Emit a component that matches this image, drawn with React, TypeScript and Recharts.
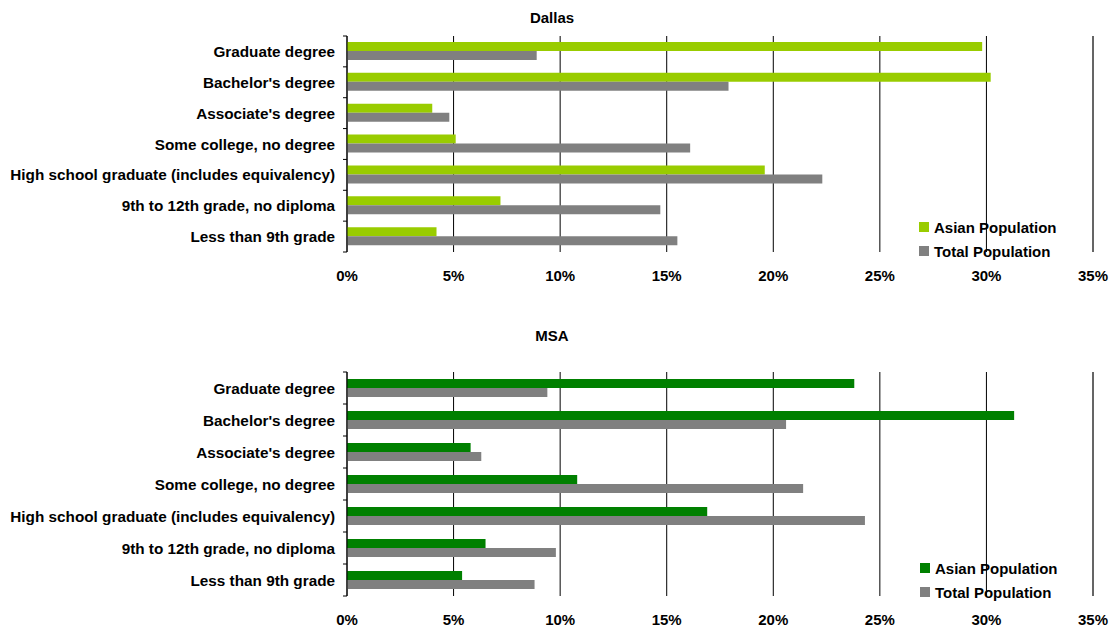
import React from "react";
import {
  BarChart,
  Bar,
  XAxis,
  YAxis,
  CartesianGrid,
  ReferenceLine,
  Legend,
} from "recharts";

const categories = [
  "Graduate degree",
  "Bachelor's degree",
  "Associate's degree",
  "Some college, no degree",
  "High school graduate (includes equivalency)",
  "9th to 12th grade, no diploma",
  "Less than 9th grade",
];

const dallasAsian = [29.8, 30.2, 4.0, 5.1, 19.6, 7.2, 4.2];
const dallasTotal = [8.9, 17.9, 4.8, 16.1, 22.3, 14.7, 15.5];

const msaAsian = [23.8, 31.3, 5.8, 10.8, 16.9, 6.5, 5.4];
const msaTotal = [9.4, 20.6, 6.3, 21.4, 24.3, 9.8, 8.8];

const xTicks = [0, 5, 10, 15, 20, 25, 30, 35];
const seriesNames = ["Asian Population", "Total Population"];

const GRAY = "#808080";
const FONT = "'Liberation Sans', Arial, sans-serif";

const build = (asian: number[], total: number[]) =>
  categories.map((name, i) => ({ name, asian: asian[i], total: total[i] }));

const dallasData = build(dallasAsian, dallasTotal);
const msaData = build(msaAsian, msaTotal);

type PanelProps = {
  title: string;
  data: { name: string; asian: number; total: number }[];
  green: string;
  top: number;
  height: number;
  marginTop: number;
  marginBottom: number;
  titleTop: number;
  legendLeft: number;
  legendTop: number;
};

const YTick = (bandHalf: number) => (props: any) => {
  const { x, y, payload, index } = props;
  const ax = x + 12;
  return (
    <g>
      <text
        x={x}
        y={y}
        textAnchor="end"
        dominantBaseline="central"
        fontFamily={FONT}
        fontSize={15.3}
        fontWeight="bold"
        fill="#000"
      >
        {payload.value}
      </text>
      {index === 0 && (
        <line x1={ax - 4} x2={ax} y1={y - bandHalf} y2={y - bandHalf} stroke="#000" />
      )}
      <line x1={ax - 4} x2={ax} y1={y + bandHalf} y2={y + bandHalf} stroke="#000" />
    </g>
  );
};

const Panel = ({
  title,
  data,
  green,
  top,
  height,
  marginTop,
  marginBottom,
  titleTop,
  legendLeft,
  legendTop,
}: PanelProps) => {
  const xAxisHeight = 30;
  const plotHeight = height - marginTop - marginBottom - xAxisHeight;
  const bandHalf = plotHeight / categories.length / 2;
  const colors = [green, GRAY];
  return (
    <div style={{ position: "absolute", left: 0, top, width: 1113, height }}>
      <div
        style={{
          position: "absolute",
          left: 0,
          top: titleTop,
          width: 1104,
          textAlign: "center",
          fontFamily: FONT,
          fontSize: 15,
          lineHeight: "15px",
          fontWeight: "bold",
          color: "#000",
        }}
      >
        {title}
      </div>
      <BarChart
        width={1113}
        height={height}
        data={data}
        layout="vertical"
        margin={{ top: marginTop, right: 20, left: 0, bottom: marginBottom }}
        barGap={0}
      >
        <CartesianGrid horizontal={false} stroke="#000" />
        <XAxis
          type="number"
          domain={[0, 35]}
          ticks={xTicks}
          tickFormatter={(v: number) => `${v}%`}
          axisLine={false}
          tickLine={false}
          tickMargin={12}
          height={xAxisHeight}
          interval={0}
          tick={{ fontFamily: FONT, fontSize: 15, fontWeight: "bold", fill: "#000" }}
        />
        <YAxis
          type="category"
          dataKey="name"
          width={347}
          axisLine={{ stroke: "#000" }}
          tickLine={false}
          tickMargin={6}
          interval={0}
          tick={YTick(bandHalf)}
        />
        <ReferenceLine x={35} stroke="#4d4d4d" />
        <Legend
          layout="horizontal"
          verticalAlign="middle"
          align="center"
          wrapperStyle={{ left: legendLeft, top: legendTop, width: 200 }}
          content={() => (
            <div style={{ fontFamily: FONT, fontSize: 15, fontWeight: "bold", color: "#000" }}>
              {seriesNames.map((n, i) => (
                <div key={n} style={{ display: "flex", alignItems: "center", height: 24 }}>
                  <span
                    style={{
                      display: "inline-block",
                      width: 10,
                      height: 10,
                      background: colors[i],
                      marginRight: 5,
                    }}
                  />
                  <span>{n}</span>
                </div>
              ))}
            </div>
          )}
        />
        <Bar dataKey="asian" name={seriesNames[0]} fill={green} barSize={9} isAnimationActive={false} />
        <Bar dataKey="total" name={seriesNames[1]} fill={GRAY} barSize={9} isAnimationActive={false} />
      </BarChart>
    </div>
  );
};

export default function App() {
  return (
    <div
      style={{
        position: "absolute",
        left: 0,
        top: 0,
        width: 1113,
        height: 628,
        background: "#fff",
        overflow: "hidden",
      }}
    >
      <Panel
        title="Dallas"
        data={dallasData}
        green="#99CC00"
        top={0}
        height={300}
        marginTop={36}
        marginBottom={18}
        titleTop={10}
        legendLeft={919}
        legendTop={215}
      />
      <Panel
        title="MSA"
        data={msaData}
        green="#008000"
        top={300}
        height={328}
        marginTop={72}
        marginBottom={2}
        titleTop={28}
        legendLeft={920}
        legendTop={256}
      />
    </div>
  );
}
